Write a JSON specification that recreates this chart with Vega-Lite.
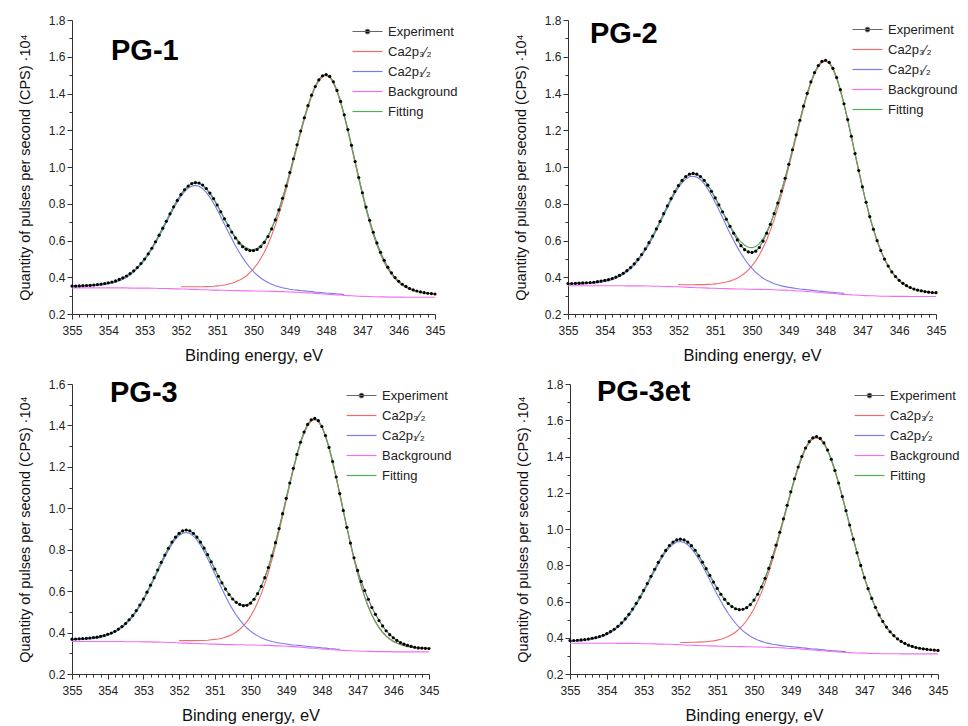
{
"$schema":"https://vega.github.io/schema/vega-lite/v6.json",
"background":"white",
"padding":{"left":17,"top":14,"right":0,"bottom":0},
"config":{"font":"Liberation Sans","view":{"stroke":null},
"axis":{"grid":false,"domainColor":"#333","tickColor":"#333","labelColor":"#222","titleColor":"#111","labelFontSize":12,"titleFontWeight":"normal","labelFlush":false,"labelBound":false,"labelPadding":2},
"axisX":{"titleFontSize":16.5,"titlePadding":11,"labelPadding":6},
"axisY":{"titleFontSize":14.5,"titlePadding":16},
"legend":{"title":null,"symbolType":"M-2,0H2","symbolSize":225,"symbolStrokeWidth":1.2,"labelFontSize":13,"labelColor":"#222","labelOffset":12,"rowPadding":4,"padding":0},
"title":{"anchor":"start","frame":"group","fontSize":29,"fontWeight":"bold","color":"#000"}
},
"datasets":{
"pg1":[
{"E":355,"exp":0.352,"p12":0.349,"bg":0.342,"fit":0.353},
{"E":354.9,"exp":0.352,"p12":0.349,"bg":0.342,"fit":0.353},
{"E":354.8,"exp":0.353,"p12":0.350,"bg":0.342,"fit":0.354},
{"E":354.7,"exp":0.354,"p12":0.351,"bg":0.342,"fit":0.355},
{"E":354.6,"exp":0.355,"p12":0.352,"bg":0.342,"fit":0.356},
{"E":354.5,"exp":0.356,"p12":0.352,"bg":0.342,"fit":0.357},
{"E":354.4,"exp":0.358,"p12":0.354,"bg":0.342,"fit":0.358},
{"E":354.3,"exp":0.360,"p12":0.355,"bg":0.342,"fit":0.360},
{"E":354.2,"exp":0.363,"p12":0.357,"bg":0.342,"fit":0.362},
{"E":354.1,"exp":0.366,"p12":0.360,"bg":0.342,"fit":0.365},
{"E":354,"exp":0.370,"p12":0.363,"bg":0.342,"fit":0.369},
{"E":353.9,"exp":0.374,"p12":0.368,"bg":0.342,"fit":0.373},
{"E":353.8,"exp":0.380,"p12":0.373,"bg":0.342,"fit":0.379},
{"E":353.7,"exp":0.388,"p12":0.380,"bg":0.342,"fit":0.386},
{"E":353.6,"exp":0.397,"p12":0.389,"bg":0.342,"fit":0.395},
{"E":353.5,"exp":0.407,"p12":0.399,"bg":0.342,"fit":0.406},
{"E":353.4,"exp":0.420,"p12":0.412,"bg":0.341,"fit":0.419},
{"E":353.3,"exp":0.435,"p12":0.428,"bg":0.341,"fit":0.435},
{"E":353.2,"exp":0.453,"p12":0.447,"bg":0.341,"fit":0.454},
{"E":353.1,"exp":0.475,"p12":0.468,"bg":0.341,"fit":0.476},
{"E":353,"exp":0.499,"p12":0.493,"bg":0.341,"fit":0.501},
{"E":352.9,"exp":0.527,"p12":0.521,"bg":0.341,"fit":0.529},
{"E":352.8,"exp":0.558,"p12":0.552,"bg":0.340,"fit":0.560},
{"E":352.7,"exp":0.593,"p12":0.586,"bg":0.340,"fit":0.595},
{"E":352.6,"exp":0.629,"p12":0.622,"bg":0.339,"fit":0.631},
{"E":352.5,"exp":0.667,"p12":0.660,"bg":0.339,"fit":0.670},
{"E":352.4,"exp":0.705,"p12":0.699,"bg":0.339,"fit":0.709},
{"E":352.3,"exp":0.745,"p12":0.738,"bg":0.338,"fit":0.748},
{"E":352.2,"exp":0.783,"p12":0.775,"bg":0.337,"fit":0.785},
{"E":352.1,"exp":0.818,"p12":0.809,"bg":0.337,"fit":0.820},
{"E":352,"exp":0.850,"p32":0.348,"p12":0.840,"bg":0.336,"fit":0.852},
{"E":351.9,"exp":0.876,"p32":0.348,"p12":0.866,"bg":0.336,"fit":0.878},
{"E":351.8,"exp":0.896,"p32":0.348,"p12":0.885,"bg":0.335,"fit":0.897},
{"E":351.7,"exp":0.910,"p32":0.348,"p12":0.896,"bg":0.334,"fit":0.910},
{"E":351.6,"exp":0.915,"p32":0.348,"p12":0.900,"bg":0.334,"fit":0.914},
{"E":351.5,"exp":0.913,"p32":0.348,"p12":0.895,"bg":0.333,"fit":0.910},
{"E":351.4,"exp":0.902,"p32":0.348,"p12":0.882,"bg":0.332,"fit":0.898},
{"E":351.3,"exp":0.883,"p32":0.349,"p12":0.862,"bg":0.332,"fit":0.879},
{"E":351.2,"exp":0.858,"p32":0.350,"p12":0.835,"bg":0.331,"fit":0.854},
{"E":351.1,"exp":0.828,"p32":0.351,"p12":0.803,"bg":0.330,"fit":0.824},
{"E":351,"exp":0.793,"p32":0.353,"p12":0.767,"bg":0.330,"fit":0.790},
{"E":350.9,"exp":0.756,"p32":0.355,"p12":0.729,"bg":0.329,"fit":0.754},
{"E":350.8,"exp":0.718,"p32":0.358,"p12":0.689,"bg":0.329,"fit":0.718},
{"E":350.7,"exp":0.681,"p32":0.362,"p12":0.649,"bg":0.328,"fit":0.683},
{"E":350.6,"exp":0.646,"p32":0.367,"p12":0.611,"bg":0.328,"fit":0.650},
{"E":350.5,"exp":0.614,"p32":0.374,"p12":0.573,"bg":0.327,"fit":0.620},
{"E":350.4,"exp":0.587,"p32":0.383,"p12":0.539,"bg":0.327,"fit":0.595},
{"E":350.3,"exp":0.566,"p32":0.393,"p12":0.507,"bg":0.326,"fit":0.574},
{"E":350.2,"exp":0.552,"p32":0.407,"p12":0.478,"bg":0.326,"fit":0.560},
{"E":350.1,"exp":0.545,"p32":0.425,"p12":0.453,"bg":0.326,"fit":0.552},
{"E":350,"exp":0.545,"p32":0.446,"p12":0.431,"bg":0.325,"fit":0.551},
{"E":349.9,"exp":0.551,"p32":0.471,"p12":0.412,"bg":0.325,"fit":0.558},
{"E":349.8,"exp":0.566,"p32":0.502,"p12":0.396,"bg":0.325,"fit":0.573},
{"E":349.7,"exp":0.590,"p32":0.538,"p12":0.382,"bg":0.324,"fit":0.596},
{"E":349.6,"exp":0.622,"p32":0.580,"p12":0.371,"bg":0.324,"fit":0.627},
{"E":349.5,"exp":0.663,"p32":0.628,"p12":0.362,"bg":0.323,"fit":0.666},
{"E":349.4,"exp":0.712,"p32":0.682,"p12":0.354,"bg":0.323,"fit":0.714},
{"E":349.3,"exp":0.767,"p32":0.742,"p12":0.348,"bg":0.322,"fit":0.768},
{"E":349.2,"exp":0.830,"p32":0.808,"p12":0.343,"bg":0.322,"fit":0.830},
{"E":349.1,"exp":0.897,"p32":0.879,"p12":0.339,"bg":0.321,"fit":0.896},
{"E":349,"exp":0.970,"p32":0.953,"p12":0.335,"bg":0.320,"fit":0.968},
{"E":348.9,"exp":1.045,"p32":1.030,"p12":0.332,"bg":0.319,"fit":1.043},
{"E":348.8,"exp":1.121,"p32":1.107,"p12":0.330,"bg":0.318,"fit":1.119},
{"E":348.7,"exp":1.196,"p32":1.184,"p12":0.327,"bg":0.317,"fit":1.194},
{"E":348.6,"exp":1.268,"p32":1.258,"p12":0.326,"bg":0.316,"fit":1.267},
{"E":348.5,"exp":1.334,"p32":1.325,"p12":0.324,"bg":0.315,"fit":1.334},
{"E":348.4,"exp":1.391,"p32":1.384,"p12":0.322,"bg":0.314,"fit":1.392},
{"E":348.3,"exp":1.438,"p32":1.433,"p12":0.319,"bg":0.312,"fit":1.440},
{"E":348.2,"exp":1.474,"p32":1.469,"p12":0.318,"bg":0.311,"fit":1.476},
{"E":348.1,"exp":1.496,"p32":1.492,"p12":0.316,"bg":0.310,"fit":1.498},
{"E":348,"exp":1.503,"p32":1.498,"p12":0.314,"bg":0.308,"fit":1.504},
{"E":347.9,"exp":1.493,"p32":1.487,"p12":0.313,"bg":0.307,"fit":1.493},
{"E":347.8,"exp":1.464,"p32":1.457,"p12":0.311,"bg":0.305,"fit":1.463},
{"E":347.7,"exp":1.417,"p32":1.410,"p12":0.309,"bg":0.304,"fit":1.415},
{"E":347.6,"exp":1.357,"p32":1.349,"p12":0.308,"bg":0.303,"fit":1.354},
{"E":347.5,"exp":1.284,"p32":1.276,"p12":0.306,"bg":0.301,"fit":1.281},
{"E":347.4,"exp":1.204,"p32":1.195,"bg":0.300,"fit":1.200},
{"E":347.3,"exp":1.118,"p32":1.109,"bg":0.299,"fit":1.114},
{"E":347.2,"exp":1.030,"p32":1.021,"bg":0.298,"fit":1.025},
{"E":347.1,"exp":0.943,"p32":0.934,"bg":0.297,"fit":0.938},
{"E":347,"exp":0.860,"p32":0.850,"bg":0.296,"fit":0.854},
{"E":346.9,"exp":0.782,"p32":0.771,"bg":0.295,"fit":0.775},
{"E":346.8,"exp":0.710,"p32":0.698,"bg":0.295,"fit":0.702},
{"E":346.7,"exp":0.645,"p32":0.632,"bg":0.294,"fit":0.636},
{"E":346.6,"exp":0.587,"p32":0.575,"bg":0.294,"fit":0.578},
{"E":346.5,"exp":0.536,"p32":0.524,"bg":0.293,"fit":0.527},
{"E":346.4,"exp":0.492,"p32":0.481,"bg":0.293,"fit":0.484},
{"E":346.3,"exp":0.455,"p32":0.445,"bg":0.292,"fit":0.448},
{"E":346.2,"exp":0.424,"p32":0.415,"bg":0.292,"fit":0.418},
{"E":346.1,"exp":0.398,"p32":0.391,"bg":0.292,"fit":0.394},
{"E":346,"exp":0.378,"p32":0.371,"bg":0.292,"fit":0.374},
{"E":345.9,"exp":0.362,"p32":0.356,"bg":0.292,"fit":0.359},
{"E":345.8,"exp":0.350,"p32":0.344,"bg":0.291,"fit":0.347},
{"E":345.7,"exp":0.339,"p32":0.335,"bg":0.291,"fit":0.337},
{"E":345.6,"exp":0.331,"p32":0.327,"bg":0.291,"fit":0.330},
{"E":345.5,"exp":0.325,"p32":0.322,"bg":0.291,"fit":0.324},
{"E":345.4,"exp":0.320,"p32":0.318,"bg":0.291,"fit":0.320},
{"E":345.3,"exp":0.316,"p32":0.314,"bg":0.291,"fit":0.317},
{"E":345.2,"exp":0.313,"p32":0.312,"bg":0.291,"fit":0.314},
{"E":345.1,"exp":0.311,"p32":0.310,"bg":0.291,"fit":0.312},
{"E":345,"exp":0.309,"p32":0.308,"bg":0.291,"fit":0.310}
],
"pg2":[
{"E":355,"exp":0.366,"p12":0.361,"bg":0.354,"fit":0.366},
{"E":354.9,"exp":0.366,"p12":0.362,"bg":0.354,"fit":0.366},
{"E":354.8,"exp":0.367,"p12":0.363,"bg":0.354,"fit":0.367},
{"E":354.7,"exp":0.368,"p12":0.363,"bg":0.354,"fit":0.368},
{"E":354.6,"exp":0.369,"p12":0.364,"bg":0.354,"fit":0.369},
{"E":354.5,"exp":0.370,"p12":0.365,"bg":0.354,"fit":0.370},
{"E":354.4,"exp":0.371,"p12":0.366,"bg":0.354,"fit":0.371},
{"E":354.3,"exp":0.373,"p12":0.368,"bg":0.354,"fit":0.373},
{"E":354.2,"exp":0.376,"p12":0.370,"bg":0.354,"fit":0.376},
{"E":354.1,"exp":0.379,"p12":0.373,"bg":0.354,"fit":0.379},
{"E":354,"exp":0.383,"p12":0.377,"bg":0.354,"fit":0.383},
{"E":353.9,"exp":0.387,"p12":0.381,"bg":0.354,"fit":0.387},
{"E":353.8,"exp":0.393,"p12":0.387,"bg":0.354,"fit":0.393},
{"E":353.7,"exp":0.401,"p12":0.395,"bg":0.354,"fit":0.401},
{"E":353.6,"exp":0.410,"p12":0.404,"bg":0.354,"fit":0.410},
{"E":353.5,"exp":0.422,"p12":0.415,"bg":0.354,"fit":0.422},
{"E":353.4,"exp":0.436,"p12":0.429,"bg":0.353,"fit":0.436},
{"E":353.3,"exp":0.453,"p12":0.446,"bg":0.353,"fit":0.453},
{"E":353.2,"exp":0.473,"p12":0.466,"bg":0.353,"fit":0.473},
{"E":353.1,"exp":0.497,"p12":0.489,"bg":0.353,"fit":0.497},
{"E":353,"exp":0.524,"p12":0.516,"bg":0.353,"fit":0.524},
{"E":352.9,"exp":0.554,"p12":0.546,"bg":0.352,"fit":0.554},
{"E":352.8,"exp":0.588,"p12":0.579,"bg":0.352,"fit":0.588},
{"E":352.7,"exp":0.624,"p12":0.615,"bg":0.351,"fit":0.624},
{"E":352.6,"exp":0.663,"p12":0.654,"bg":0.351,"fit":0.663},
{"E":352.5,"exp":0.704,"p12":0.695,"bg":0.351,"fit":0.704},
{"E":352.4,"exp":0.746,"p12":0.736,"bg":0.350,"fit":0.746},
{"E":352.3,"exp":0.788,"p12":0.777,"bg":0.349,"fit":0.788},
{"E":352.2,"exp":0.828,"p12":0.817,"bg":0.349,"fit":0.828},
{"E":352.1,"exp":0.866,"p12":0.854,"bg":0.348,"fit":0.866},
{"E":352,"exp":0.899,"p32":0.360,"p12":0.887,"bg":0.348,"fit":0.899},
{"E":351.9,"exp":0.927,"p32":0.359,"p12":0.914,"bg":0.347,"fit":0.927},
{"E":351.8,"exp":0.948,"p32":0.359,"p12":0.934,"bg":0.346,"fit":0.948},
{"E":351.7,"exp":0.961,"p32":0.359,"p12":0.947,"bg":0.345,"fit":0.961},
{"E":351.6,"exp":0.965,"p32":0.359,"p12":0.950,"bg":0.344,"fit":0.965},
{"E":351.5,"exp":0.961,"p32":0.360,"p12":0.945,"bg":0.343,"fit":0.961},
{"E":351.4,"exp":0.948,"p32":0.360,"p12":0.931,"bg":0.343,"fit":0.948},
{"E":351.3,"exp":0.928,"p32":0.360,"p12":0.909,"bg":0.342,"fit":0.928},
{"E":351.2,"exp":0.901,"p32":0.361,"p12":0.881,"bg":0.341,"fit":0.901},
{"E":351.1,"exp":0.868,"p32":0.362,"p12":0.846,"bg":0.340,"fit":0.868},
{"E":351,"exp":0.832,"p32":0.364,"p12":0.808,"bg":0.340,"fit":0.832},
{"E":350.9,"exp":0.794,"p32":0.366,"p12":0.767,"bg":0.339,"fit":0.794},
{"E":350.8,"exp":0.756,"p32":0.370,"p12":0.725,"bg":0.339,"fit":0.756},
{"E":350.7,"exp":0.716,"p32":0.374,"p12":0.682,"bg":0.338,"fit":0.718},
{"E":350.6,"exp":0.677,"p32":0.379,"p12":0.640,"bg":0.337,"fit":0.681},
{"E":350.5,"exp":0.640,"p32":0.386,"p12":0.601,"bg":0.337,"fit":0.647},
{"E":350.4,"exp":0.603,"p32":0.395,"p12":0.564,"bg":0.336,"fit":0.617},
{"E":350.3,"exp":0.572,"p32":0.407,"p12":0.529,"bg":0.336,"fit":0.592},
{"E":350.2,"exp":0.550,"p32":0.422,"p12":0.499,"bg":0.336,"fit":0.574},
{"E":350.1,"exp":0.538,"p32":0.440,"p12":0.471,"bg":0.335,"fit":0.563},
{"E":350,"exp":0.535,"p32":0.462,"p12":0.448,"bg":0.335,"fit":0.561},
{"E":349.9,"exp":0.542,"p32":0.489,"p12":0.427,"bg":0.334,"fit":0.567},
{"E":349.8,"exp":0.562,"p32":0.521,"p12":0.410,"bg":0.334,"fit":0.583},
{"E":349.7,"exp":0.597,"p32":0.560,"p12":0.395,"bg":0.333,"fit":0.610},
{"E":349.6,"exp":0.640,"p32":0.604,"p12":0.383,"bg":0.333,"fit":0.646},
{"E":349.5,"exp":0.688,"p32":0.655,"p12":0.374,"bg":0.333,"fit":0.691},
{"E":349.4,"exp":0.746,"p32":0.712,"p12":0.365,"bg":0.332,"fit":0.746},
{"E":349.3,"exp":0.804,"p32":0.776,"p12":0.359,"bg":0.331,"fit":0.804},
{"E":349.2,"exp":0.869,"p32":0.846,"p12":0.353,"bg":0.330,"fit":0.869},
{"E":349.1,"exp":0.939,"p32":0.920,"p12":0.349,"bg":0.330,"fit":0.939},
{"E":349,"exp":1.015,"p32":0.999,"p12":0.345,"bg":0.329,"fit":1.015},
{"E":348.9,"exp":1.094,"p32":1.080,"p12":0.342,"bg":0.328,"fit":1.094},
{"E":348.8,"exp":1.175,"p32":1.162,"p12":0.339,"bg":0.326,"fit":1.175},
{"E":348.7,"exp":1.254,"p32":1.243,"p12":0.336,"bg":0.325,"fit":1.254},
{"E":348.6,"exp":1.331,"p32":1.321,"p12":0.334,"bg":0.324,"fit":1.331},
{"E":348.5,"exp":1.401,"p32":1.392,"p12":0.332,"bg":0.323,"fit":1.401},
{"E":348.4,"exp":1.463,"p32":1.455,"p12":0.330,"bg":0.321,"fit":1.463},
{"E":348.3,"exp":1.514,"p32":1.506,"p12":0.327,"bg":0.320,"fit":1.514},
{"E":348.2,"exp":1.552,"p32":1.545,"p12":0.325,"bg":0.318,"fit":1.552},
{"E":348.1,"exp":1.575,"p32":1.568,"p12":0.323,"bg":0.316,"fit":1.575},
{"E":348,"exp":1.581,"p32":1.575,"p12":0.321,"bg":0.315,"fit":1.581},
{"E":347.9,"exp":1.569,"p32":1.563,"p12":0.319,"bg":0.313,"fit":1.569},
{"E":347.8,"exp":1.537,"p32":1.531,"p12":0.318,"bg":0.312,"fit":1.537},
{"E":347.7,"exp":1.487,"p32":1.481,"p12":0.316,"bg":0.310,"fit":1.487},
{"E":347.6,"exp":1.421,"p32":1.416,"p12":0.314,"bg":0.308,"fit":1.421},
{"E":347.5,"exp":1.344,"p32":1.339,"p12":0.312,"bg":0.307,"fit":1.344},
{"E":347.4,"exp":1.258,"p32":1.253,"bg":0.306,"fit":1.258},
{"E":347.3,"exp":1.167,"p32":1.162,"bg":0.304,"fit":1.167},
{"E":347.2,"exp":1.073,"p32":1.069,"bg":0.303,"fit":1.073},
{"E":347.1,"exp":0.981,"p32":0.976,"bg":0.302,"fit":0.981},
{"E":347,"exp":0.892,"p32":0.888,"bg":0.301,"fit":0.892},
{"E":346.9,"exp":0.808,"p32":0.804,"bg":0.300,"fit":0.808},
{"E":346.8,"exp":0.730,"p32":0.726,"bg":0.299,"fit":0.730},
{"E":346.7,"exp":0.661,"p32":0.657,"bg":0.299,"fit":0.661},
{"E":346.6,"exp":0.599,"p32":0.596,"bg":0.298,"fit":0.599},
{"E":346.5,"exp":0.545,"p32":0.542,"bg":0.297,"fit":0.545},
{"E":346.4,"exp":0.499,"p32":0.496,"bg":0.297,"fit":0.499},
{"E":346.3,"exp":0.461,"p32":0.458,"bg":0.297,"fit":0.461},
{"E":346.2,"exp":0.429,"p32":0.426,"bg":0.296,"fit":0.429},
{"E":346.1,"exp":0.404,"p32":0.401,"bg":0.296,"fit":0.404},
{"E":346,"exp":0.383,"p32":0.380,"bg":0.296,"fit":0.383},
{"E":345.9,"exp":0.367,"p32":0.364,"bg":0.296,"fit":0.367},
{"E":345.8,"exp":0.354,"p32":0.351,"bg":0.296,"fit":0.354},
{"E":345.7,"exp":0.344,"p32":0.341,"bg":0.295,"fit":0.344},
{"E":345.6,"exp":0.336,"p32":0.334,"bg":0.295,"fit":0.336},
{"E":345.5,"exp":0.330,"p32":0.328,"bg":0.295,"fit":0.330},
{"E":345.4,"exp":0.326,"p32":0.324,"bg":0.295,"fit":0.326},
{"E":345.3,"exp":0.322,"p32":0.320,"bg":0.295,"fit":0.322},
{"E":345.2,"exp":0.319,"p32":0.317,"bg":0.295,"fit":0.319},
{"E":345.1,"exp":0.317,"p32":0.315,"bg":0.295,"fit":0.317},
{"E":345,"exp":0.316,"p32":0.313,"bg":0.295,"fit":0.316}
],
"pg3":[
{"E":355,"exp":0.368,"p12":0.365,"bg":0.357,"fit":0.368},
{"E":354.9,"exp":0.369,"p12":0.365,"bg":0.357,"fit":0.369},
{"E":354.8,"exp":0.370,"p12":0.366,"bg":0.357,"fit":0.370},
{"E":354.7,"exp":0.371,"p12":0.367,"bg":0.357,"fit":0.371},
{"E":354.6,"exp":0.372,"p12":0.368,"bg":0.357,"fit":0.372},
{"E":354.5,"exp":0.374,"p12":0.370,"bg":0.357,"fit":0.374},
{"E":354.4,"exp":0.376,"p12":0.371,"bg":0.357,"fit":0.376},
{"E":354.3,"exp":0.378,"p12":0.374,"bg":0.357,"fit":0.378},
{"E":354.2,"exp":0.382,"p12":0.377,"bg":0.357,"fit":0.382},
{"E":354.1,"exp":0.386,"p12":0.381,"bg":0.357,"fit":0.386},
{"E":354,"exp":0.392,"p12":0.387,"bg":0.357,"fit":0.392},
{"E":353.9,"exp":0.398,"p12":0.393,"bg":0.357,"fit":0.398},
{"E":353.8,"exp":0.406,"p12":0.401,"bg":0.357,"fit":0.406},
{"E":353.7,"exp":0.417,"p12":0.412,"bg":0.357,"fit":0.417},
{"E":353.6,"exp":0.429,"p12":0.424,"bg":0.357,"fit":0.429},
{"E":353.5,"exp":0.444,"p12":0.438,"bg":0.356,"fit":0.444},
{"E":353.4,"exp":0.462,"p12":0.456,"bg":0.356,"fit":0.462},
{"E":353.3,"exp":0.482,"p12":0.476,"bg":0.356,"fit":0.482},
{"E":353.2,"exp":0.506,"p12":0.500,"bg":0.356,"fit":0.506},
{"E":353.1,"exp":0.533,"p12":0.526,"bg":0.356,"fit":0.533},
{"E":353,"exp":0.562,"p12":0.555,"bg":0.355,"fit":0.562},
{"E":352.9,"exp":0.595,"p12":0.587,"bg":0.355,"fit":0.595},
{"E":352.8,"exp":0.629,"p12":0.622,"bg":0.355,"fit":0.629},
{"E":352.7,"exp":0.665,"p12":0.657,"bg":0.354,"fit":0.665},
{"E":352.6,"exp":0.702,"p12":0.694,"bg":0.354,"fit":0.702},
{"E":352.5,"exp":0.739,"p12":0.730,"bg":0.353,"fit":0.739},
{"E":352.4,"exp":0.774,"p12":0.765,"bg":0.353,"fit":0.774},
{"E":352.3,"exp":0.807,"p12":0.798,"bg":0.352,"fit":0.807},
{"E":352.2,"exp":0.837,"p12":0.827,"bg":0.352,"fit":0.837},
{"E":352.1,"exp":0.861,"p12":0.851,"bg":0.351,"fit":0.861},
{"E":352,"exp":0.879,"p32":0.361,"p12":0.869,"bg":0.350,"fit":0.879},
{"E":351.9,"exp":0.891,"p32":0.361,"p12":0.879,"bg":0.349,"fit":0.891},
{"E":351.8,"exp":0.895,"p32":0.361,"p12":0.883,"bg":0.349,"fit":0.895},
{"E":351.7,"exp":0.891,"p32":0.361,"p12":0.878,"bg":0.348,"fit":0.891},
{"E":351.6,"exp":0.879,"p32":0.361,"p12":0.866,"bg":0.347,"fit":0.879},
{"E":351.5,"exp":0.861,"p32":0.361,"p12":0.847,"bg":0.347,"fit":0.861},
{"E":351.4,"exp":0.837,"p32":0.362,"p12":0.822,"bg":0.346,"fit":0.837},
{"E":351.3,"exp":0.808,"p32":0.362,"p12":0.791,"bg":0.346,"fit":0.808},
{"E":351.2,"exp":0.776,"p32":0.363,"p12":0.757,"bg":0.345,"fit":0.776},
{"E":351.1,"exp":0.742,"p32":0.365,"p12":0.721,"bg":0.344,"fit":0.742},
{"E":351,"exp":0.707,"p32":0.367,"p12":0.684,"bg":0.344,"fit":0.707},
{"E":350.9,"exp":0.672,"p32":0.369,"p12":0.647,"bg":0.343,"fit":0.672},
{"E":350.8,"exp":0.640,"p32":0.373,"p12":0.610,"bg":0.343,"fit":0.640},
{"E":350.7,"exp":0.610,"p32":0.378,"p12":0.575,"bg":0.342,"fit":0.610},
{"E":350.6,"exp":0.584,"p32":0.384,"p12":0.542,"bg":0.342,"fit":0.584},
{"E":350.5,"exp":0.562,"p32":0.392,"p12":0.512,"bg":0.342,"fit":0.562},
{"E":350.4,"exp":0.546,"p32":0.403,"p12":0.485,"bg":0.341,"fit":0.546},
{"E":350.3,"exp":0.536,"p32":0.416,"p12":0.461,"bg":0.341,"fit":0.536},
{"E":350.2,"exp":0.530,"p32":0.432,"p12":0.440,"bg":0.341,"fit":0.532},
{"E":350.1,"exp":0.532,"p32":0.453,"p12":0.422,"bg":0.340,"fit":0.535},
{"E":350,"exp":0.542,"p32":0.478,"p12":0.407,"bg":0.340,"fit":0.545},
{"E":349.9,"exp":0.561,"p32":0.509,"p12":0.394,"bg":0.340,"fit":0.563},
{"E":349.8,"exp":0.588,"p32":0.545,"p12":0.384,"bg":0.339,"fit":0.589},
{"E":349.7,"exp":0.623,"p32":0.587,"p12":0.375,"bg":0.339,"fit":0.623},
{"E":349.6,"exp":0.665,"p32":0.635,"p12":0.368,"bg":0.338,"fit":0.665},
{"E":349.5,"exp":0.714,"p32":0.690,"p12":0.362,"bg":0.338,"fit":0.714},
{"E":349.4,"exp":0.771,"p32":0.751,"p12":0.357,"bg":0.337,"fit":0.771},
{"E":349.3,"exp":0.834,"p32":0.817,"p12":0.353,"bg":0.336,"fit":0.834},
{"E":349.2,"exp":0.902,"p32":0.888,"p12":0.350,"bg":0.336,"fit":0.902},
{"E":349.1,"exp":0.974,"p32":0.961,"p12":0.347,"bg":0.335,"fit":0.974},
{"E":349,"exp":1.048,"p32":1.037,"p12":0.345,"bg":0.334,"fit":1.048},
{"E":348.9,"exp":1.122,"p32":1.112,"p12":0.342,"bg":0.333,"fit":1.122},
{"E":348.8,"exp":1.193,"p32":1.185,"p12":0.340,"bg":0.332,"fit":1.193},
{"E":348.7,"exp":1.260,"p32":1.252,"p12":0.339,"bg":0.331,"fit":1.260},
{"E":348.6,"exp":1.319,"p32":1.312,"p12":0.337,"bg":0.329,"fit":1.319},
{"E":348.5,"exp":1.368,"p32":1.361,"p12":0.335,"bg":0.328,"fit":1.368},
{"E":348.4,"exp":1.405,"p32":1.398,"p12":0.333,"bg":0.326,"fit":1.405},
{"E":348.3,"exp":1.427,"p32":1.421,"p12":0.331,"bg":0.325,"fit":1.427},
{"E":348.2,"exp":1.434,"p32":1.428,"p12":0.330,"bg":0.324,"fit":1.434},
{"E":348.1,"exp":1.423,"p32":1.418,"p12":0.328,"bg":0.322,"fit":1.423},
{"E":348,"exp":1.395,"p32":1.390,"p12":0.326,"bg":0.321,"fit":1.395},
{"E":347.9,"exp":1.351,"p32":1.346,"p12":0.325,"bg":0.320,"fit":1.351},
{"E":347.8,"exp":1.294,"p32":1.289,"p12":0.323,"bg":0.318,"fit":1.294},
{"E":347.7,"exp":1.226,"p32":1.221,"p12":0.322,"bg":0.317,"fit":1.226},
{"E":347.6,"exp":1.151,"p32":1.146,"p12":0.320,"bg":0.316,"fit":1.151},
{"E":347.5,"exp":1.071,"p32":1.067,"p12":0.319,"bg":0.315,"fit":1.071},
{"E":347.4,"exp":0.989,"p32":0.985,"bg":0.314,"fit":0.989},
{"E":347.3,"exp":0.908,"p32":0.904,"bg":0.313,"fit":0.908},
{"E":347.2,"exp":0.832,"p32":0.826,"bg":0.312,"fit":0.830},
{"E":347.1,"exp":0.761,"p32":0.753,"bg":0.311,"fit":0.756},
{"E":347,"exp":0.700,"p32":0.685,"bg":0.311,"fit":0.688},
{"E":346.9,"exp":0.647,"p32":0.624,"bg":0.310,"fit":0.627},
{"E":346.8,"exp":0.603,"p32":0.570,"bg":0.310,"fit":0.573},
{"E":346.7,"exp":0.561,"p32":0.523,"bg":0.309,"fit":0.526},
{"E":346.6,"exp":0.521,"p32":0.483,"bg":0.309,"fit":0.486},
{"E":346.5,"exp":0.488,"p32":0.450,"bg":0.308,"fit":0.453},
{"E":346.4,"exp":0.458,"p32":0.422,"bg":0.308,"fit":0.425},
{"E":346.3,"exp":0.432,"p32":0.400,"bg":0.308,"fit":0.402},
{"E":346.2,"exp":0.409,"p32":0.382,"bg":0.308,"fit":0.384},
{"E":346.1,"exp":0.390,"p32":0.367,"bg":0.308,"fit":0.370},
{"E":346,"exp":0.375,"p32":0.356,"bg":0.307,"fit":0.359},
{"E":345.9,"exp":0.362,"p32":0.348,"bg":0.307,"fit":0.350},
{"E":345.8,"exp":0.352,"p32":0.341,"bg":0.307,"fit":0.343},
{"E":345.7,"exp":0.344,"p32":0.336,"bg":0.307,"fit":0.338},
{"E":345.6,"exp":0.338,"p32":0.332,"bg":0.307,"fit":0.334},
{"E":345.5,"exp":0.333,"p32":0.329,"bg":0.307,"fit":0.331},
{"E":345.4,"exp":0.329,"p32":0.326,"bg":0.307,"fit":0.328},
{"E":345.3,"exp":0.326,"p32":0.325,"bg":0.307,"fit":0.326},
{"E":345.2,"exp":0.325,"p32":0.323,"bg":0.307,"fit":0.325},
{"E":345.1,"exp":0.324,"p32":0.322,"bg":0.307,"fit":0.324},
{"E":345,"exp":0.323,"p32":0.321,"bg":0.307,"fit":0.323}
],
"pg4":[
{"E":355,"exp":0.384,"p12":0.380,"bg":0.370,"fit":0.384},
{"E":354.9,"exp":0.385,"p12":0.381,"bg":0.370,"fit":0.385},
{"E":354.8,"exp":0.386,"p12":0.382,"bg":0.370,"fit":0.386},
{"E":354.7,"exp":0.388,"p12":0.383,"bg":0.370,"fit":0.388},
{"E":354.6,"exp":0.390,"p12":0.386,"bg":0.370,"fit":0.390},
{"E":354.5,"exp":0.393,"p12":0.388,"bg":0.370,"fit":0.393},
{"E":354.4,"exp":0.397,"p12":0.392,"bg":0.370,"fit":0.397},
{"E":354.3,"exp":0.401,"p12":0.396,"bg":0.370,"fit":0.401},
{"E":354.2,"exp":0.407,"p12":0.401,"bg":0.370,"fit":0.407},
{"E":354.1,"exp":0.414,"p12":0.408,"bg":0.370,"fit":0.414},
{"E":354,"exp":0.423,"p12":0.417,"bg":0.370,"fit":0.423},
{"E":353.9,"exp":0.434,"p12":0.428,"bg":0.370,"fit":0.434},
{"E":353.8,"exp":0.447,"p12":0.441,"bg":0.370,"fit":0.447},
{"E":353.7,"exp":0.463,"p12":0.457,"bg":0.369,"fit":0.463},
{"E":353.6,"exp":0.482,"p12":0.475,"bg":0.369,"fit":0.482},
{"E":353.5,"exp":0.504,"p12":0.497,"bg":0.369,"fit":0.504},
{"E":353.4,"exp":0.529,"p12":0.522,"bg":0.369,"fit":0.529},
{"E":353.3,"exp":0.558,"p12":0.550,"bg":0.369,"fit":0.558},
{"E":353.2,"exp":0.590,"p12":0.582,"bg":0.368,"fit":0.590},
{"E":353.1,"exp":0.624,"p12":0.616,"bg":0.368,"fit":0.624},
{"E":353,"exp":0.661,"p12":0.652,"bg":0.367,"fit":0.661},
{"E":352.9,"exp":0.699,"p12":0.691,"bg":0.367,"fit":0.699},
{"E":352.8,"exp":0.739,"p12":0.730,"bg":0.367,"fit":0.739},
{"E":352.7,"exp":0.778,"p12":0.768,"bg":0.366,"fit":0.778},
{"E":352.6,"exp":0.816,"p12":0.806,"bg":0.365,"fit":0.816},
{"E":352.5,"exp":0.851,"p12":0.841,"bg":0.365,"fit":0.851},
{"E":352.4,"exp":0.882,"p12":0.872,"bg":0.364,"fit":0.882},
{"E":352.3,"exp":0.909,"p12":0.897,"bg":0.364,"fit":0.909},
{"E":352.2,"exp":0.928,"p12":0.916,"bg":0.363,"fit":0.928},
{"E":352.1,"exp":0.940,"p12":0.928,"bg":0.362,"fit":0.940},
{"E":352,"exp":0.944,"p32":0.374,"p12":0.931,"bg":0.361,"fit":0.944},
{"E":351.9,"exp":0.940,"p32":0.374,"p12":0.926,"bg":0.360,"fit":0.940},
{"E":351.8,"exp":0.928,"p32":0.374,"p12":0.913,"bg":0.359,"fit":0.928},
{"E":351.7,"exp":0.908,"p32":0.375,"p12":0.892,"bg":0.359,"fit":0.908},
{"E":351.6,"exp":0.883,"p32":0.375,"p12":0.865,"bg":0.358,"fit":0.883},
{"E":351.5,"exp":0.852,"p32":0.376,"p12":0.833,"bg":0.357,"fit":0.852},
{"E":351.4,"exp":0.817,"p32":0.377,"p12":0.797,"bg":0.356,"fit":0.817},
{"E":351.3,"exp":0.781,"p32":0.378,"p12":0.758,"bg":0.356,"fit":0.781},
{"E":351.2,"exp":0.744,"p32":0.381,"p12":0.718,"bg":0.355,"fit":0.744},
{"E":351.1,"exp":0.707,"p32":0.383,"p12":0.678,"bg":0.355,"fit":0.707},
{"E":351,"exp":0.672,"p32":0.387,"p12":0.639,"bg":0.354,"fit":0.672},
{"E":350.9,"exp":0.640,"p32":0.392,"p12":0.601,"bg":0.353,"fit":0.640},
{"E":350.8,"exp":0.612,"p32":0.399,"p12":0.566,"bg":0.353,"fit":0.612},
{"E":350.7,"exp":0.589,"p32":0.407,"p12":0.534,"bg":0.352,"fit":0.589},
{"E":350.6,"exp":0.572,"p32":0.418,"p12":0.505,"bg":0.352,"fit":0.572},
{"E":350.5,"exp":0.560,"p32":0.432,"p12":0.480,"bg":0.352,"fit":0.560},
{"E":350.4,"exp":0.555,"p32":0.449,"p12":0.457,"bg":0.351,"fit":0.555},
{"E":350.3,"exp":0.557,"p32":0.469,"p12":0.438,"bg":0.351,"fit":0.557},
{"E":350.2,"exp":0.566,"p32":0.495,"p12":0.422,"bg":0.350,"fit":0.566},
{"E":350.1,"exp":0.583,"p32":0.525,"p12":0.408,"bg":0.350,"fit":0.583},
{"E":350,"exp":0.608,"p32":0.560,"p12":0.397,"bg":0.349,"fit":0.608},
{"E":349.9,"exp":0.640,"p32":0.602,"p12":0.388,"bg":0.349,"fit":0.640},
{"E":349.8,"exp":0.680,"p32":0.649,"p12":0.380,"bg":0.349,"fit":0.680},
{"E":349.7,"exp":0.728,"p32":0.702,"p12":0.374,"bg":0.348,"fit":0.728},
{"E":349.6,"exp":0.783,"p32":0.761,"p12":0.369,"bg":0.347,"fit":0.783},
{"E":349.5,"exp":0.844,"p32":0.826,"p12":0.364,"bg":0.346,"fit":0.844},
{"E":349.4,"exp":0.911,"p32":0.895,"p12":0.361,"bg":0.346,"fit":0.911},
{"E":349.3,"exp":0.982,"p32":0.969,"p12":0.358,"bg":0.345,"fit":0.982},
{"E":349.2,"exp":1.056,"p32":1.044,"p12":0.355,"bg":0.344,"fit":1.056},
{"E":349.1,"exp":1.131,"p32":1.121,"p12":0.353,"bg":0.342,"fit":1.131},
{"E":349,"exp":1.205,"p32":1.196,"p12":0.351,"bg":0.341,"fit":1.205},
{"E":348.9,"exp":1.277,"p32":1.268,"p12":0.349,"bg":0.340,"fit":1.277},
{"E":348.8,"exp":1.342,"p32":1.334,"p12":0.347,"bg":0.339,"fit":1.342},
{"E":348.7,"exp":1.400,"p32":1.392,"p12":0.345,"bg":0.337,"fit":1.400},
{"E":348.6,"exp":1.447,"p32":1.440,"p12":0.343,"bg":0.336,"fit":1.447},
{"E":348.5,"exp":1.482,"p32":1.476,"p12":0.340,"bg":0.334,"fit":1.482},
{"E":348.4,"exp":1.503,"p32":1.497,"p12":0.338,"bg":0.332,"fit":1.503},
{"E":348.3,"exp":1.510,"p32":1.504,"p12":0.337,"bg":0.331,"fit":1.510},
{"E":348.2,"exp":1.500,"p32":1.494,"p12":0.335,"bg":0.329,"fit":1.500},
{"E":348.1,"exp":1.475,"p32":1.470,"p12":0.333,"bg":0.328,"fit":1.475},
{"E":348,"exp":1.436,"p32":1.431,"p12":0.331,"bg":0.326,"fit":1.436},
{"E":347.9,"exp":1.385,"p32":1.380,"p12":0.329,"bg":0.324,"fit":1.385},
{"E":347.8,"exp":1.323,"p32":1.318,"p12":0.328,"bg":0.323,"fit":1.323},
{"E":347.7,"exp":1.254,"p32":1.250,"p12":0.326,"bg":0.322,"fit":1.254},
{"E":347.6,"exp":1.179,"p32":1.175,"p12":0.325,"bg":0.320,"fit":1.179},
{"E":347.5,"exp":1.101,"p32":1.097,"p12":0.323,"bg":0.319,"fit":1.101},
{"E":347.4,"exp":1.022,"p32":1.018,"bg":0.318,"fit":1.022},
{"E":347.3,"exp":0.944,"p32":0.941,"bg":0.317,"fit":0.944},
{"E":347.2,"exp":0.869,"p32":0.866,"bg":0.316,"fit":0.869},
{"E":347.1,"exp":0.799,"p32":0.795,"bg":0.315,"fit":0.799},
{"E":347,"exp":0.732,"p32":0.729,"bg":0.315,"fit":0.732},
{"E":346.9,"exp":0.671,"p32":0.668,"bg":0.314,"fit":0.671},
{"E":346.8,"exp":0.617,"p32":0.614,"bg":0.313,"fit":0.617},
{"E":346.7,"exp":0.568,"p32":0.565,"bg":0.313,"fit":0.568},
{"E":346.6,"exp":0.526,"p32":0.523,"bg":0.313,"fit":0.526},
{"E":346.5,"exp":0.490,"p32":0.487,"bg":0.312,"fit":0.490},
{"E":346.4,"exp":0.459,"p32":0.456,"bg":0.312,"fit":0.459},
{"E":346.3,"exp":0.433,"p32":0.430,"bg":0.312,"fit":0.433},
{"E":346.2,"exp":0.412,"p32":0.409,"bg":0.312,"fit":0.412},
{"E":346.1,"exp":0.394,"p32":0.392,"bg":0.312,"fit":0.394},
{"E":346,"exp":0.380,"p32":0.378,"bg":0.311,"fit":0.380},
{"E":345.9,"exp":0.369,"p32":0.366,"bg":0.311,"fit":0.369},
{"E":345.8,"exp":0.359,"p32":0.357,"bg":0.311,"fit":0.359},
{"E":345.7,"exp":0.352,"p32":0.350,"bg":0.311,"fit":0.352},
{"E":345.6,"exp":0.346,"p32":0.344,"bg":0.311,"fit":0.346},
{"E":345.5,"exp":0.342,"p32":0.340,"bg":0.311,"fit":0.342},
{"E":345.4,"exp":0.339,"p32":0.337,"bg":0.311,"fit":0.339},
{"E":345.3,"exp":0.336,"p32":0.334,"bg":0.311,"fit":0.336},
{"E":345.2,"exp":0.334,"p32":0.332,"bg":0.311,"fit":0.334},
{"E":345.1,"exp":0.332,"p32":0.330,"bg":0.311,"fit":0.332},
{"E":345,"exp":0.330,"p32":0.328,"bg":0.311,"fit":0.330}
]
},
"vconcat":[
{"hconcat":[
{"width":363,"height":294,"data":{"name":"pg1"},
"title":{"text":"PG-1","offset":-52,"dx":39},
"resolve":{"axis":{"x":"independent","y":"independent"}},
"layer":[
{"transform":[{"fold":["exp","p32","p12","bg","fit"],"as":["series","value"]}],
"mark":{"type":"line","strokeWidth":1.1},
"encoding":{
"x":{"field":"E","type":"quantitative","scale":{"domain":[345,355],"reverse":true,"nice":false,"zero":false},
"axis":{"title":"Binding energy, eV","orient":"bottom","values":[345,346,347,348,349,350,351,352,353,354,355],"format":"d","tickSize":5}},
"y":{"field":"value","type":"quantitative","scale":{"domain":[0.2,1.8],"nice":false,"zero":false},
"axis":{"title":"Quantity of pulses per second  (CPS) ·10⁴","orient":"left","values":[0.2,0.4,0.6,0.8,1.0,1.2,1.4,1.6,1.8],"format":".1f","tickSize":5}},
"color":{"field":"series","type":"nominal","scale":{"domain":["exp","p32","p12","bg","fit"],"range":["#666666","#f26b6b","#7a7aea","#f36ef3","#4fae5a"]},
"legend":{"orient":"none","legendX":287,"legendY":3,"labelExpr":"datum.value==='exp' ? 'Experiment' : datum.value==='p32' ? 'Ca2p₃⁄₂' : datum.value==='p12' ? 'Ca2p₁⁄₂' : datum.value==='bg' ? 'Background' : 'Fitting'",
"encode":{"symbols":{"update":{"shape":{"signal":"datum.value==='exp' ? 'M-2,0H2M0.3,0A0.3,0.3,0,1,1,-0.3,0A0.3,0.3,0,1,1,0.3,0Z' : 'M-2,0H2'"},"fill":{"signal":"datum.value==='exp' ? '#000' : 'transparent'"}}}}}}
}},
{"mark":{"type":"point","filled":true,"size":10,"color":"#000","opacity":1},
"encoding":{"x":{"field":"E","type":"quantitative","axis":{"orient":"bottom","title":null,"labels":false,"domain":false,"tickSize":3,"values":[345.2,345.4,345.6,345.8,346.2,346.4,346.6,346.8,347.2,347.4,347.6,347.8,348.2,348.4,348.6,348.8,349.2,349.4,349.6,349.8,350.2,350.4,350.6,350.8,351.2,351.4,351.6,351.8,352.2,352.4,352.6,352.8,353.2,353.4,353.6,353.8,354.2,354.4,354.6,354.8]}},
"y":{"field":"exp","type":"quantitative","axis":{"orient":"left","title":null,"labels":false,"domain":false,"tickSize":3,"values":[0.3,0.5,0.7,0.9,1.1,1.3,1.5,1.7]}}}}
]},
{"width":368,"height":294,"data":{"name":"pg2"},
"title":{"text":"PG-2","offset":-35,"dx":22},
"resolve":{"axis":{"x":"independent","y":"independent"}},
"layer":[
{"transform":[{"fold":["exp","p32","p12","bg","fit"],"as":["series","value"]}],
"mark":{"type":"line","strokeWidth":1.1},
"encoding":{
"x":{"field":"E","type":"quantitative","scale":{"domain":[345,355],"reverse":true,"nice":false,"zero":false},
"axis":{"title":"Binding energy, eV","orient":"bottom","values":[345,346,347,348,349,350,351,352,353,354,355],"format":"d","tickSize":5}},
"y":{"field":"value","type":"quantitative","scale":{"domain":[0.2,1.8],"nice":false,"zero":false},
"axis":{"title":"Quantity of pulses per second  (CPS) ·10⁴","orient":"left","values":[0.2,0.4,0.6,0.8,1.0,1.2,1.4,1.6,1.8],"format":".1f","tickSize":5}},
"color":{"field":"series","type":"nominal","scale":{"domain":["exp","p32","p12","bg","fit"],"range":["#666666","#f26b6b","#7a7aea","#f36ef3","#4fae5a"]},
"legend":{"orient":"none","legendX":291,"legendY":1,"labelExpr":"datum.value==='exp' ? 'Experiment' : datum.value==='p32' ? 'Ca2p₃⁄₂' : datum.value==='p12' ? 'Ca2p₁⁄₂' : datum.value==='bg' ? 'Background' : 'Fitting'",
"encode":{"symbols":{"update":{"shape":{"signal":"datum.value==='exp' ? 'M-2,0H2M0.3,0A0.3,0.3,0,1,1,-0.3,0A0.3,0.3,0,1,1,0.3,0Z' : 'M-2,0H2'"},"fill":{"signal":"datum.value==='exp' ? '#000' : 'transparent'"}}}}}}
}},
{"mark":{"type":"point","filled":true,"size":10,"color":"#000","opacity":1},
"encoding":{"x":{"field":"E","type":"quantitative","axis":{"orient":"bottom","title":null,"labels":false,"domain":false,"tickSize":3,"values":[345.2,345.4,345.6,345.8,346.2,346.4,346.6,346.8,347.2,347.4,347.6,347.8,348.2,348.4,348.6,348.8,349.2,349.4,349.6,349.8,350.2,350.4,350.6,350.8,351.2,351.4,351.6,351.8,352.2,352.4,352.6,352.8,353.2,353.4,353.6,353.8,354.2,354.4,354.6,354.8]}},
"y":{"field":"exp","type":"quantitative","axis":{"orient":"left","title":null,"labels":false,"domain":false,"tickSize":3,"values":[0.3,0.5,0.7,0.9,1.1,1.3,1.5,1.7]}}}}
]}
],"spacing":55,"resolve":{"scale":{"color":"independent"},"legend":{"color":"independent"}}},
{"hconcat":[
{"width":357,"height":290,"data":{"name":"pg3"},
"title":{"text":"PG-3","offset":-30,"dx":38},
"resolve":{"axis":{"x":"independent","y":"independent"}},
"layer":[
{"transform":[{"fold":["exp","p32","p12","bg","fit"],"as":["series","value"]}],
"mark":{"type":"line","strokeWidth":1.1},
"encoding":{
"x":{"field":"E","type":"quantitative","scale":{"domain":[345,355],"reverse":true,"nice":false,"zero":false},
"axis":{"title":"Binding energy, eV","orient":"bottom","values":[345,346,347,348,349,350,351,352,353,354,355],"format":"d","tickSize":5}},
"y":{"field":"value","type":"quantitative","scale":{"domain":[0.2,1.6],"nice":false,"zero":false},
"axis":{"title":"Quantity of pulses per second  (CPS) ·10⁴","orient":"left","values":[0.2,0.4,0.6,0.8,1.0,1.2,1.4,1.6],"format":".1f","tickSize":5}},
"color":{"field":"series","type":"nominal","scale":{"domain":["exp","p32","p12","bg","fit"],"range":["#666666","#f26b6b","#7a7aea","#f36ef3","#4fae5a"]},
"legend":{"orient":"none","legendX":281,"legendY":3,"labelExpr":"datum.value==='exp' ? 'Experiment' : datum.value==='p32' ? 'Ca2p₃⁄₂' : datum.value==='p12' ? 'Ca2p₁⁄₂' : datum.value==='bg' ? 'Background' : 'Fitting'",
"encode":{"symbols":{"update":{"shape":{"signal":"datum.value==='exp' ? 'M-2,0H2M0.3,0A0.3,0.3,0,1,1,-0.3,0A0.3,0.3,0,1,1,0.3,0Z' : 'M-2,0H2'"},"fill":{"signal":"datum.value==='exp' ? '#000' : 'transparent'"}}}}}}
}},
{"mark":{"type":"point","filled":true,"size":10,"color":"#000","opacity":1},
"encoding":{"x":{"field":"E","type":"quantitative","axis":{"orient":"bottom","title":null,"labels":false,"domain":false,"tickSize":3,"values":[345.2,345.4,345.6,345.8,346.2,346.4,346.6,346.8,347.2,347.4,347.6,347.8,348.2,348.4,348.6,348.8,349.2,349.4,349.6,349.8,350.2,350.4,350.6,350.8,351.2,351.4,351.6,351.8,352.2,352.4,352.6,352.8,353.2,353.4,353.6,353.8,354.2,354.4,354.6,354.8]}},
"y":{"field":"exp","type":"quantitative","axis":{"orient":"left","title":null,"labels":false,"domain":false,"tickSize":3,"values":[0.3,0.5,0.7,0.9,1.1,1.3,1.5]}}}}
]},
{"width":368,"height":290,"data":{"name":"pg4"},
"title":{"text":"PG-3et","offset":-29,"dx":27},
"resolve":{"axis":{"x":"independent","y":"independent"}},
"layer":[
{"transform":[{"fold":["exp","p32","p12","bg","fit"],"as":["series","value"]}],
"mark":{"type":"line","strokeWidth":1.1},
"encoding":{
"x":{"field":"E","type":"quantitative","scale":{"domain":[345,355],"reverse":true,"nice":false,"zero":false},
"axis":{"title":"Binding energy, eV","orient":"bottom","values":[345,346,347,348,349,350,351,352,353,354,355],"format":"d","tickSize":5}},
"y":{"field":"value","type":"quantitative","scale":{"domain":[0.2,1.8],"nice":false,"zero":false},
"axis":{"title":"Quantity of pulses per second  (CPS) ·10⁴","orient":"left","values":[0.2,0.4,0.6,0.8,1.0,1.2,1.4,1.6,1.8],"format":".1f","tickSize":5}},
"color":{"field":"series","type":"nominal","scale":{"domain":["exp","p32","p12","bg","fit"],"range":["#666666","#f26b6b","#7a7aea","#f36ef3","#4fae5a"]},
"legend":{"orient":"none","legendX":291,"legendY":3,"labelExpr":"datum.value==='exp' ? 'Experiment' : datum.value==='p32' ? 'Ca2p₃⁄₂' : datum.value==='p12' ? 'Ca2p₁⁄₂' : datum.value==='bg' ? 'Background' : 'Fitting'",
"encode":{"symbols":{"update":{"shape":{"signal":"datum.value==='exp' ? 'M-2,0H2M0.3,0A0.3,0.3,0,1,1,-0.3,0A0.3,0.3,0,1,1,0.3,0Z' : 'M-2,0H2'"},"fill":{"signal":"datum.value==='exp' ? '#000' : 'transparent'"}}}}}}
}},
{"mark":{"type":"point","filled":true,"size":10,"color":"#000","opacity":1},
"encoding":{"x":{"field":"E","type":"quantitative","axis":{"orient":"bottom","title":null,"labels":false,"domain":false,"tickSize":3,"values":[345.2,345.4,345.6,345.8,346.2,346.4,346.6,346.8,347.2,347.4,347.6,347.8,348.2,348.4,348.6,348.8,349.2,349.4,349.6,349.8,350.2,350.4,350.6,350.8,351.2,351.4,351.6,351.8,352.2,352.4,352.6,352.8,353.2,353.4,353.6,353.8,354.2,354.4,354.6,354.8]}},
"y":{"field":"exp","type":"quantitative","axis":{"orient":"left","title":null,"labels":false,"domain":false,"tickSize":3,"values":[0.3,0.5,0.7,0.9,1.1,1.3,1.5,1.7]}}}}
]}
],"spacing":63,"resolve":{"scale":{"color":"independent"},"legend":{"color":"independent"}}}
],
"spacing":14,
"resolve":{"scale":{"color":"independent"},"legend":{"color":"independent"}}
}
